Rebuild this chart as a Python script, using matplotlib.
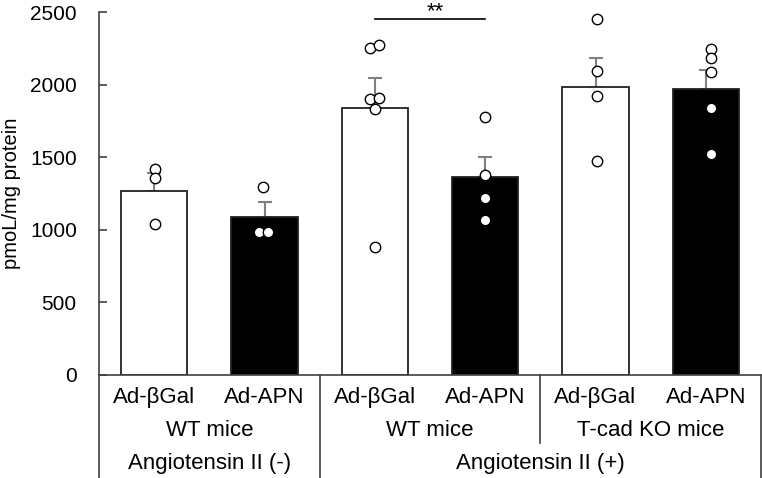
import matplotlib.pyplot as plt

plt.rcParams['font.family'] = ['Liberation Sans', 'DejaVu Sans']

# 数据
labels = ['Ad-βGal', 'Ad-APN', 'Ad-βGal', 'Ad-APN', 'Ad-βGal', 'Ad-APN']
mice = ['WT mice', 'WT mice', 'T-cad KO mice']
treat = ['Angiotensin II (-)', 'Angiotensin II (+)']
means = [1269, 1090, 1841, 1364, 1981, 1972]
sems = [122, 103, 202, 135, 200, 128]
colors = ['white', 'black', 'white', 'black', 'white', 'black']
points = [
    [1419, 1355, 1038],
    [1295, 983, 983],
    [2254, 2275, 1899, 1908, 1832, 881],
    [1779, 1375, 1217, 1067],
    [2452, 2092, 1919, 1476],
    [2245, 2181, 2087, 1841, 1524],
]
# 点的横向偏移
jitter = [
    [0.01, 0.01, 0.01],
    [-0.016, -0.047, 0.034],
    [-0.04, 0.035, -0.04, 0.035, 0.0, 0.0],
    [0.0, 0.0, 0.0, 0.0],
    [0.01, 0.01, 0.01, 0.01],
    [0.05, 0.05, 0.05, 0.05, 0.05],
]

fig = plt.figure(figsize=(7.62, 4.78), dpi=100)
ax = fig.add_axes([99/762, 103/478, 662/762, 363/478])
x = list(range(len(means)))
line_c = '#404040'

ax.bar(x, means, width=0.6, color=colors, edgecolor='#222222', linewidth=1.3, zorder=2)
ax.errorbar(x, means, yerr=[[0]*len(sems), sems], fmt='none', ecolor='#808080',
            elinewidth=1.5, capsize=5, capthick=1.5, zorder=1)
for i in x:
    xs = [i + j for j in jitter[i]]
    ax.plot(xs, points[i], 'o', mfc='white', mec='black', mew=1.0, ms=7.5,
            zorder=3, clip_on=False)

ax.set_xlim(-0.5, 5.5)
ax.set_ylim(0, 2500)
ax.set_yticks([0, 500, 1000, 1500, 2000, 2500])
ax.tick_params(axis='y', direction='in', length=6, width=1.2, color=line_c,
               labelsize=15, pad=16)
ax.set_xticks([])
fig.text(12/762, 1 - 193/478, 'pmoL/mg protein', rotation=90, ha='center',
         va='center', fontsize=14.5)
for s in ['top', 'right']:
    ax.spines[s].set_visible(False)
for s in ['left', 'bottom']:
    ax.spines[s].set_color(line_c)
    ax.spines[s].set_linewidth(1.2)

# 显著性标记
ax.plot([2, 3], [2452, 2452], color='black', lw=1.2, clip_on=False)
ax.text(2.55, 2462, '**', ha='center', va='baseline', fontsize=16, clip_on=False)

# 下方分组标签
tr = ax.get_xaxis_transform()
fs = 16
for i, lab in enumerate(labels):
    ax.text(i, -0.062, lab, transform=tr, ha='center', va='center', fontsize=fs)
for k, m in enumerate(mice):
    ax.text(0.5 + 2*k, -0.153, m, transform=tr, ha='center', va='center', fontsize=fs)
ax.text(0.5, -0.244, treat[0], transform=tr, ha='center', va='center', fontsize=fs)
ax.text(3.5, -0.244, treat[1], transform=tr, ha='center', va='center', fontsize=fs)

bot = -0.29
ax.plot([-0.5, -0.5], [bot, 0], transform=tr, color=line_c, lw=1.2, clip_on=False)
ax.plot([5.5, 5.5], [bot, 0], transform=tr, color=line_c, lw=1.2, clip_on=False)
ax.plot([1.5, 1.5], [bot, 0], transform=tr, color=line_c, lw=1.2, clip_on=False)
ax.plot([3.5, 3.5], [-0.187, 0], transform=tr, color=line_c, lw=1.2, clip_on=False)

plt.savefig('out.png', dpi=100)
